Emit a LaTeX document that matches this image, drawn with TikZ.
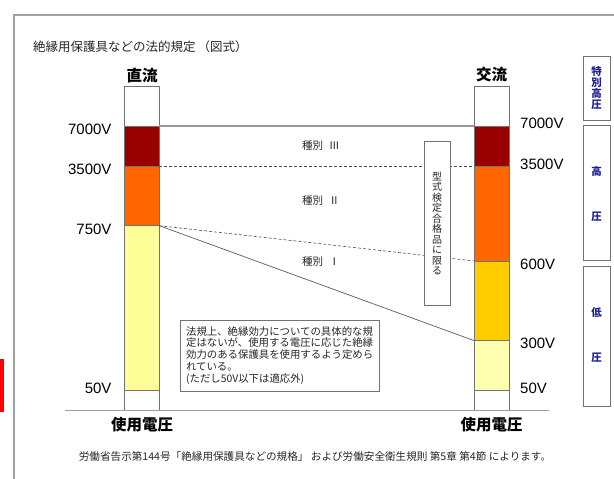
\documentclass[tikz,border=0pt]{standalone}
\usepackage{fontspec}
\setmainfont{Liberation Sans}
\newfontfamily\jp{Noto Sans CJK JP}
\definecolor{dred}{HTML}{990000}
\definecolor{orng}{HTML}{FF6600}
\definecolor{gold}{HTML}{FFCC00}
\definecolor{lyel}{HTML}{FFFF99}
\definecolor{lyel2}{HTML}{FFFFB0}
\definecolor{navyb}{HTML}{1F1F8F}
\definecolor{framec}{HTML}{A0A0A0}
\begin{document}
\begin{tikzpicture}[x=1pt,y=-1pt,
  seg/.style={draw=black!55, line width=0.8pt, minimum width=34.6pt, inner sep=0pt, outer sep=0pt, anchor=north west},
  vlabel/.style={font=\fontsize{15}{17}\selectfont, inner sep=0pt},
  head/.style={font=\jp\bfseries\fontsize{15.5}{17}\selectfont, inner sep=0pt},
  kind/.style={font=\jp\fontsize{10.5}{12}\selectfont, text=black!85, anchor=west, inner sep=0pt},
  solidg/.style={draw=black!40, line width=1.1pt},
  dashg/.style={draw=black!70, line width=0.6pt, dash pattern=on 3pt off 2pt},
  darkg/.style={draw=black!65, line width=0.7pt},
  framel/.style={draw=framec, line width=1.3pt},
  sidebox/.style={draw=black!55, line width=0.8pt, minimum width=26.7pt, inner sep=0pt, text=navyb, font=\jp\bfseries\fontsize{10.5}{10.8}\selectfont, align=center},
  sidech/.style={text=navyb, font=\jp\bfseries\fontsize{10.5}{12}\selectfont, inner sep=0pt}
]
\useasboundingbox (0,0) rectangle (614,479);
% frame
\coordinate (fbl) at (14,479);
\coordinate (ftl) at (14,15);
\coordinate (ftr) at (614,15);
\draw[framel] (fbl) -- (ftl) -- (ftr);
\fill[red] (0,359) rectangle (4,412);

% title
\node[anchor=west, font=\jp\fontsize{12.5}{14}\selectfont, text=black!85, inner sep=0pt] (title) at (33,47) {絶縁用保護具などの法的規定\hspace{2pt}（図式）};

% headings
\node[head] (dc) at (142,76) {直流};
\node[head] (ac) at (491.7,75) {交流};
\node[head] (useL) at (142,425) {使用電圧};
\node[head] (useR) at (491.7,425) {使用電圧};

% left bar
\node[seg, fill=white, minimum height=40pt] (Ltop) at (124.7,86) {};
\node[seg, fill=dred, minimum height=40.5pt] (Lred) at (124.7,126) {};
\node[seg, fill=orng, minimum height=59.2pt] (Lorange) at (124.7,166.5) {};
\node[seg, fill=lyel, minimum height=165pt] (Lyellow) at (124.7,225.7) {};
\node[seg, fill=white, minimum height=19.8pt] (Lbot) at (124.7,390.7) {};

% right bar
\node[seg, fill=white, minimum height=40pt] (Rtop) at (474.3,86) {};
\node[seg, fill=dred, minimum height=40.5pt] (Rred) at (474.3,126) {};
\node[seg, fill=orng, minimum height=94.5pt] (Rorange) at (474.3,166.5) {};
\node[seg, fill=gold, minimum height=79.7pt] (Rgold) at (474.3,261) {};
\node[seg, fill=lyel2, minimum height=50pt] (Rlight) at (474.3,340.7) {};
\node[seg, fill=white, minimum height=19.8pt] (Rbot) at (474.3,390.7) {};

% baseline
\coordinate (b1) at (65,410.7);
\coordinate (b2) at (549,410.7);
\draw[framel] (b1) -- (b2);

% voltage labels
\node[vlabel, anchor=east] (l7000) at (111.7,129) {7000V};
\node[vlabel, anchor=east] (l3500) at (111.7,169) {3500V};
\node[vlabel, anchor=east] (l750) at (111.7,229) {750V};
\node[vlabel, anchor=east] (l50) at (111.7,388) {50V};
\node[vlabel, anchor=west] (r7000) at (520,123) {7000V};
\node[vlabel, anchor=west] (r3500) at (520,164) {3500V};
\node[vlabel, anchor=west] (r600) at (520,264) {600V};
\node[vlabel, anchor=west] (r300) at (520,343) {300V};
\node[vlabel, anchor=west] (r50) at (520,388) {50V};

% connectors
\draw[solidg] (Lred.north east) -- (Rred.north west);
\draw[dashg] (Lorange.north east) -- (Rorange.north west);
\draw[dashg] (Lyellow.north east) -- (Rgold.north west);
\draw[darkg] (Lyellow.north east) -- (Rlight.north west);

% kinds
\node[kind] (k3) at (302,146) {種別\hspace{6pt}Ⅲ};
\node[kind] (k2) at (302,200.7) {種別\hspace{6pt}Ⅱ};
\node[kind] (k1) at (302,261.7) {種別\hspace{6pt}Ⅰ};

% type approval box
\node[draw=black!55, line width=0.8pt, fill=white, minimum width=25.7pt, minimum height=163.3pt, inner sep=0pt, align=center, font=\jp\fontsize{10}{10.5}\selectfont, text=black!85] (typebox) at (437.2,223.3) {型\\式\\検\\定\\合\\格\\品\\に\\限\\る};

% note box
\node[draw=black!55, line width=0.8pt, fill=white, minimum width=199.3pt, minimum height=71pt, inner sep=0pt, align=left, font=\jp\fontsize{10.4}{11.9}\selectfont, text=black!85] (note) at (279.7,355.5) {法規上、絶縁効力についての具体的な規\\定はないが、使用する電圧に応じた絶縁\\効力のある保護具を使用するよう定めら\\れている。\\(ただし50V以下は適応外)};

% side boxes
\node[sidebox, minimum height=64pt] (sb1) at (596.7,88) {特\\別\\高\\圧};
\node[sidebox, minimum height=134.3pt] (sb2) at (596.7,192.9) {};
\node[sidech] (sb2a) at (596.7,171.7) {高};
\node[sidech] (sb2b) at (596.7,216.7) {圧};
\node[sidebox, minimum height=140pt] (sb3) at (596.7,336) {};
\node[sidech] (sb3a) at (596.7,313) {低};
\node[sidech] (sb3b) at (596.7,358) {圧};

% footer
\node[font=\jp\fontsize{10.6}{12}\selectfont, text=black!85, inner sep=0pt] (footer) at (315,456) {労働省告示第144号「絶縁用保護具などの規格」 および労働安全衛生規則 第5章 第4節 によります。};
\end{tikzpicture}
\end{document}
